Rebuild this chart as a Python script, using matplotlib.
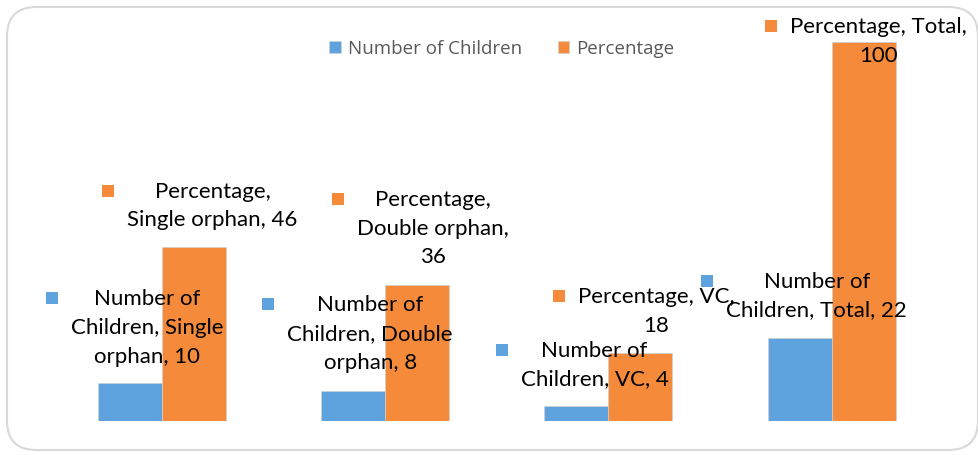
import matplotlib
matplotlib.use("Agg")
import matplotlib.pyplot as plt
from matplotlib.patches import FancyBboxPatch, Rectangle
from matplotlib.transforms import IdentityTransform
import numpy as np

categories = ["Single orphan", "Double orphan", "VC", "Total"]
series_names = ["Number of Children", "Percentage"]
children = [10, 8, 4, 22]
percentage = [46, 36, 18, 100]

colors = ["#5FA3DE", "#F58A3A"]
W, H = 979, 455
fig = plt.figure(figsize=(W / 100, H / 100), dpi=100)
font = ["Lato", "DejaVu Sans"]

# rounded chart border
border = FancyBboxPatch((7 / W, 5 / H), (W - 8) / W, (H - 12) / H,
                        boxstyle="round,pad=0,rounding_size=0.03",
                        transform=fig.transFigure, facecolor="none",
                        edgecolor="#D9D9D9", linewidth=1.5, mutation_aspect=W / H,
                        zorder=-5)
fig.patches.append(border)

ax = fig.add_axes([50.3 / W, (H - 421) / H, 893 / W, 379 / H])
ax.set_facecolor("none")
x = np.arange(len(categories))
w = 0.287
b1 = ax.bar(x - w / 2, children, w, color=colors[0], edgecolor="#D0D0D0", linewidth=0.5, label=series_names[0])
b2 = ax.bar(x + w / 2, percentage, w, color=colors[1], edgecolor="#D0D0D0", linewidth=0.5, label=series_names[1])
ax.set_xlim(-0.5, len(categories) - 0.5)
ax.set_ylim(0, 100)
ax.axis("off")

# legend
leg = fig.legend(handles=[b1, b2], labels=series_names, loc="center",
                 bbox_to_anchor=(502 / W, (H - 49) / H), ncol=2, frameon=False,
                 prop={"family": ["Open Sans", "DejaVu Sans"], "size": 13.5},
                 handlelength=0.6, handleheight=0.6, handletextpad=0.4,
                 columnspacing=1.9, labelcolor="#595959")

lab_children = ["Number of\nChildren, Single\norphan, 10",
                "Number of\nChildren, Double\norphan, 8",
                "Number of\nChildren, VC, 4",
                "Number of\nChildren, Total, 22"]
lab_pct = ["Percentage,\nSingle orphan, 46",
           "Percentage,\nDouble orphan,\n36",
           "Percentage, VC,\n18",
           "Percentage, Total,\n100"]
off_children = [(17.5, 55), (17, 56.7), (18, 41), (17, 41.6)]
off_pct = [(18.5, 40.5), (15.5, 56), (16, 41), (14.5, 0.5)]

texts = []
for i in range(len(categories)):
    for xs, val, lab, off, col in [(x[i] - w / 2, children[i], lab_children[i], off_children[i], colors[0]),
                                   (x[i] + w / 2, percentage[i], lab_pct[i], off_pct[i], colors[1])]:
        t = ax.annotate(lab, xy=(xs, val), xytext=off, textcoords="offset pixels",
                        ha="center", va="center", multialignment="center",
                        fontsize=16, family=font, color="black", linespacing=1.54,
                        annotation_clip=False, zorder=5)
        texts.append((t, col))

fig.canvas.draw()
r = fig.canvas.get_renderer()
for t, col in texts:
    bb = t.get_window_extent(r)
    s = 12
    fig.patches.append(Rectangle((bb.x0 - 19 - s / 2, bb.y1 - 9 - s / 2), s, s,
                                 transform=IdentityTransform(), facecolor=col,
                                 edgecolor="none", figure=fig))

fig.savefig("out.png", dpi=100)
